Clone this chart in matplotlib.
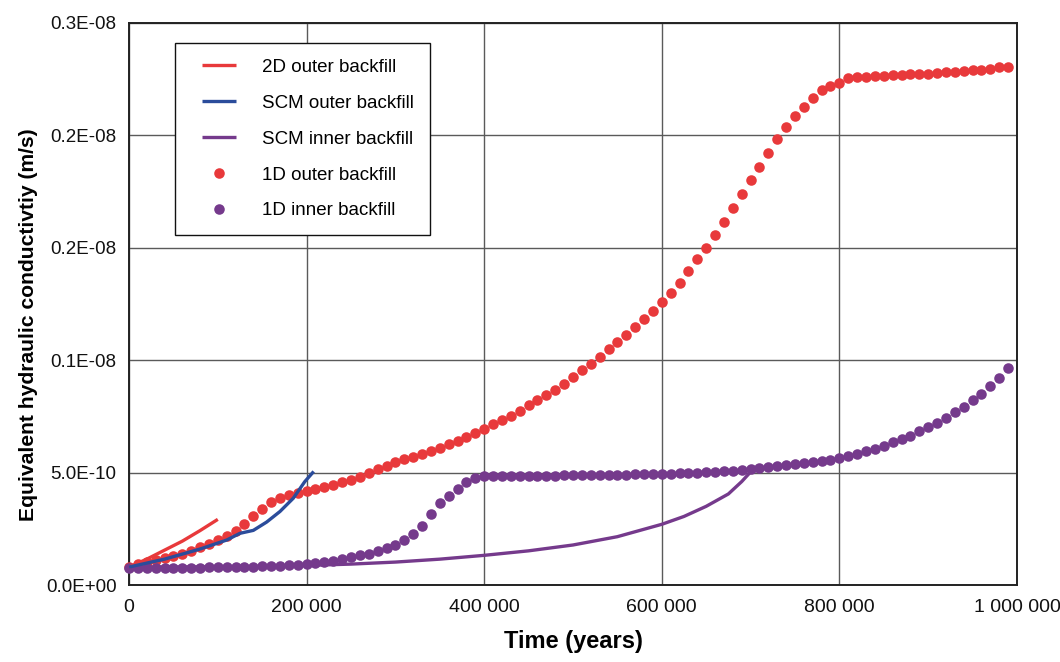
import numpy as np
import matplotlib
matplotlib.use("Agg")
import matplotlib.pyplot as plt
from matplotlib.ticker import FixedLocator, FixedFormatter
from matplotlib.legend_handler import HandlerLine2D

plt.rcParams["font.family"] = ["Liberation Sans", "DejaVu Sans"]

# 1D model results, sampled every 10 000 years (values in 1e-10 m/s)
t_1d = np.arange(0, 1000000, 10000)
k_1d_outer = [
    0.80, 0.92, 1.01, 1.10, 1.19, 1.28, 1.40, 1.52, 1.67, 1.82,
    1.99, 2.19, 2.41, 2.72, 3.07, 3.40, 3.68, 3.87, 3.99, 4.08,
    4.18, 4.27, 4.37, 4.46, 4.57, 4.67, 4.81, 4.97, 5.15, 5.31,
    5.46, 5.60, 5.71, 5.83, 5.98, 6.10, 6.25, 6.40, 6.58, 6.76,
    6.95, 7.14, 7.32, 7.53, 7.75, 7.99, 8.21, 8.44, 8.66, 8.95,
    9.25, 9.55, 9.82, 10.12, 10.48, 10.80, 11.12, 11.46, 11.82, 12.20,
    12.58, 12.98, 13.45, 13.97, 14.49, 15.00, 15.56, 16.15, 16.79, 17.38,
    18.00, 18.61, 19.23, 19.86, 20.37, 20.85, 21.28, 21.68, 22.00, 22.21,
    22.34, 22.55, 22.58, 22.61, 22.62, 22.64, 22.67, 22.68, 22.71, 22.72,
    22.75, 22.77, 22.80, 22.83, 22.86, 22.89, 22.93, 22.96, 23.02, 23.06,
]
k_1d_inner = [
    0.77, 0.77, 0.77, 0.77, 0.77, 0.77, 0.77, 0.77, 0.77, 0.78,
    0.78, 0.79, 0.80, 0.81, 0.82, 0.83, 0.84, 0.86, 0.88, 0.90,
    0.92, 0.97, 1.03, 1.09, 1.16, 1.24, 1.32, 1.40, 1.51, 1.63,
    1.78, 1.98, 2.26, 2.63, 3.16, 3.65, 3.97, 4.27, 4.57, 4.78,
    4.86, 4.87, 4.87, 4.87, 4.87, 4.87, 4.87, 4.87, 4.87, 4.88,
    4.88, 4.88, 4.89, 4.89, 4.90, 4.90, 4.91, 4.92, 4.93, 4.94,
    4.95, 4.96, 4.97, 4.99, 5.00, 5.02, 5.04, 5.06, 5.09, 5.13,
    5.18, 5.22, 5.27, 5.30, 5.36, 5.39, 5.42, 5.46, 5.52, 5.58,
    5.65, 5.73, 5.83, 5.95, 6.07, 6.20, 6.35, 6.50, 6.65, 6.83,
    7.02, 7.21, 7.44, 7.69, 7.94, 8.21, 8.50, 8.85, 9.22, 9.67,
]

# 2D and SCM results (values in 1e-10 m/s)
t_2d_outer = [0, 20000, 40000, 60000, 80000, 100000]
k_2d_outer = [0.80, 1.15, 1.55, 1.95, 2.42, 2.92]

t_scm_outer = [0, 40000, 80000, 110000, 125000, 140000, 155000, 170000,
               185000, 198000, 208000]
k_scm_outer = [0.80, 1.15, 1.60, 2.00, 2.30, 2.43, 2.80, 3.27, 3.86, 4.60, 5.05]

t_scm_inner = [0, 50000, 100000, 150000, 200000, 250000, 300000, 350000,
               400000, 450000, 500000, 550000, 600000, 625000, 650000,
               675000, 690000, 700000]
k_scm_inner = [0.80, 0.80, 0.81, 0.83, 0.87, 0.93, 1.02, 1.15, 1.32, 1.52,
               1.78, 2.15, 2.70, 3.05, 3.50, 4.05, 4.60, 5.03]

x_ticks = [0, 200000, 400000, 600000, 800000, 1000000]
x_tick_labels = ["0", "200 000", "400 000", "600 000", "800 000", "1 000 000"]
y_ticks = [0, 5e-10, 1e-9, 1.5e-9, 2e-9, 2.5e-9]
y_tick_labels = ["0.0E+00", "5.0E-10", "0.1E-08", "0.2E-08", "0.2E-08", "0.3E-08"]

RED = "#e8393b"
BLUE = "#2b4c9b"
PURPLE = "#753a8c"
scale = 1e-10

fig = plt.figure(figsize=(10.6, 6.62), dpi=100)
ax = fig.add_axes([0.1217, 0.1163, 0.8377, 0.8490])

ax.plot(t_2d_outer, np.array(k_2d_outer) * scale, color=RED, lw=2.4,
        label="2D outer backfill", zorder=5, solid_capstyle="butt")
ax.plot(t_scm_outer, np.array(k_scm_outer) * scale, color=BLUE, lw=2.4,
        label="SCM outer backfill", zorder=5, solid_capstyle="butt")
ax.plot(t_scm_inner, np.array(k_scm_inner) * scale, color=PURPLE, lw=2.4,
        label="SCM inner backfill", zorder=2, solid_capstyle="butt")
ax.plot(t_1d, np.array(k_1d_outer) * scale, "o", color=RED, ms=7.6, mew=0,
        label="1D outer backfill", zorder=3, clip_on=False)
ax.plot(t_1d, np.array(k_1d_inner) * scale, "o", color=PURPLE, ms=7.6, mew=0,
        label="1D inner backfill", zorder=3, clip_on=False)

ax.set_xlim(0, 1000000)
ax.set_ylim(0, 2.5e-9)
ax.xaxis.set_major_locator(FixedLocator(x_ticks))
ax.xaxis.set_major_formatter(FixedFormatter(x_tick_labels))
ax.yaxis.set_major_locator(FixedLocator(y_ticks))
ax.yaxis.set_major_formatter(FixedFormatter(y_tick_labels))
ax.tick_params(axis="both", length=0, colors="#111111")
ax.tick_params(axis="x", pad=10, labelsize=14)
ax.tick_params(axis="y", pad=9, labelsize=13.5)

ax.grid(True, color="#5a5a5a", lw=1.0)
ax.set_axisbelow(True)
for sp in ax.spines.values():
    sp.set_linewidth(1.4)
    sp.set_color("#222222")

ax.set_xlabel("Time (years)", fontsize=17, fontweight="bold", labelpad=10)
ax.set_ylabel("Equivalent hydraulic conductivtiy (m/s)", fontsize=15.2,
              fontweight="bold")
ax.yaxis.set_label_coords(-0.103, 0.464)

# shift the legend handles right, away from the frame edge
handler = HandlerLine2D(xpad=0.6)
leg = ax.legend(loc="upper left", bbox_to_anchor=(0.052, 0.9645),
                borderaxespad=0, fontsize=13.5, frameon=True, fancybox=False,
                edgecolor="#111111", framealpha=1, handlelength=2.4,
                handletextpad=1.4, labelspacing=1.0, borderpad=0.85,
                numpoints=1,
                handler_map={ln: handler for ln in ax.get_lines()})
leg.get_frame().set_linewidth(1.0)

fig.savefig("out.png", dpi=100)
